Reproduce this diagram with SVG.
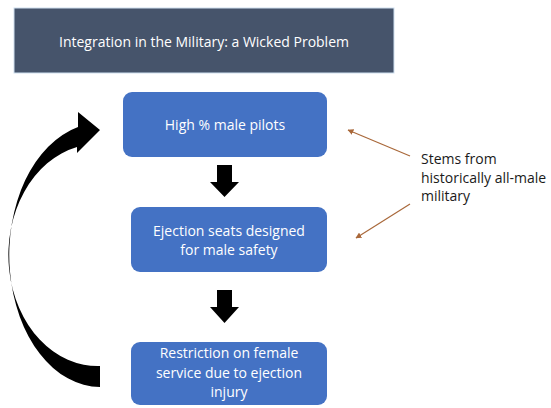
<svg xmlns="http://www.w3.org/2000/svg" width="551" height="408" viewBox="0 0 551 408">
<style>
.box{fill:#4472C4;}
.bt{font-family:"Open Sans","Liberation Sans",sans-serif;font-size:14px;fill:#ffffff;text-anchor:middle;}
.note{font-family:"Open Sans","Liberation Sans",sans-serif;font-size:14px;fill:#1a1a1a;}
.ann{stroke:#A9683A;stroke-width:1.2;fill:none;marker-end:url(#ah);}
</style>
<defs>
<marker id="ah" viewBox="0 0 10 10" refX="9" refY="5" markerWidth="6" markerHeight="6" orient="auto" markerUnits="userSpaceOnUse">
<path d="M0,0 L10,5 L0,10 z" fill="#A9683A"/>
</marker>
</defs>
<rect width="551" height="408" fill="#ffffff"/>
<g id="title">
<rect x="14" y="8" width="380" height="65" fill="#46546B" stroke="#cfe0f0" stroke-width="1"/>
<text x="204" y="47" class="bt">Integration in the Military: a Wicked Problem</text>
</g>
<g id="node1">
<rect class="box" x="123" y="92" width="204" height="65" rx="9"/>
<text x="225" y="130" class="bt">High % male pilots</text>
</g>
<g id="node2">
<rect class="box" x="131" y="207" width="196" height="65" rx="9"/>
<text x="229" y="236" class="bt">Ejection seats designed</text>
<text x="229" y="255" class="bt">for male safety</text>
</g>
<g id="node3">
<rect class="box" x="131" y="342" width="196" height="63" rx="9"/>
<text x="229" y="358" class="bt">Restriction on female</text>
<text x="229" y="378" class="bt">service due to ejection</text>
<text x="229" y="397" class="bt">injury</text>
</g>
<g id="note">
<text class="note"><tspan x="421" y="164">Stems from</tspan><tspan x="421" y="183">historically all-male</tspan><tspan x="421" y="201">military</tspan></text>
</g>
<g id="connectors">
<path d="M217,165 H232 V182 H239 L224.5,197 L210,182 H217 Z" fill="#000"/>
<path d="M217,290 H232 V307 H239 L224.5,323 L210,307 H217 Z" fill="#000"/>
<path d="M100,387 A91,132 0 0 1 78,127 L78,112 L100,130 L77,153 L77,147 A89,111 0 0 0 100,366 Z" fill="#000"/>
<line class="ann" x1="410" y1="156" x2="348" y2="130"/>
<line class="ann" x1="410" y1="204" x2="356" y2="238"/>
</g>
</svg>
